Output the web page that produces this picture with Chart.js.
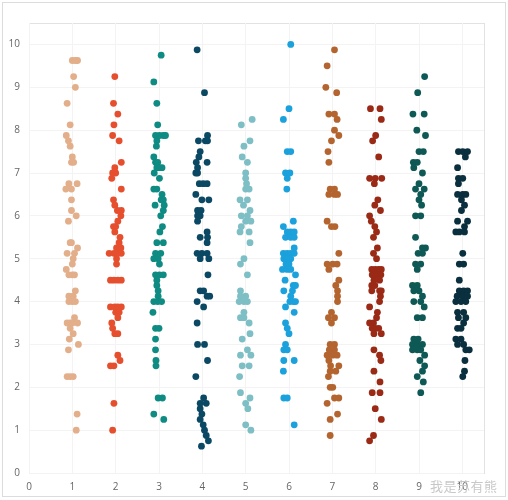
<!DOCTYPE html>
<html>
<head>
<meta charset="utf-8">
<script src="https://cdn.jsdelivr.net/npm/chart.js@4"></script>
<style>
    html, body { margin: 0; padding: 0; background: #ffffff; }
    #wrap { position: relative; width: 508px; height: 500px; }
    #watermark {
        position: absolute; left: 430px; top: 476px;
        font-family: 'Noto Sans CJK SC', sans-serif; font-size: 13px;
        color: #c8c8c8; letter-spacing: 0.5px;
    }
</style>
</head>
<body>
<div id="wrap">
    <canvas id="stripChart" width="508" height="500"></canvas>
    <div id="watermark">我是苏有熊</div>
</div>
<script>
// Strip plot - 10 groups, jittered points [x, y]

const groupLabels = ['1', '2', '3', '4', '5', '6', '7', '8', '9', '10'];
const xTicks = [0, 1, 2, 3, 4, 5, 6, 7, 8, 9, 10];
const yTicks = [0, 1, 2, 3, 4, 5, 6, 7, 8, 9, 10];

const group1 = [[1.00,9.625],[1.07,9.625],[1.12,9.625],[1.03,9.25],[1.07,9.0],[0.88,8.625],[0.95,8.125],[0.86,7.875],[0.91,7.75],[0.95,7.625],[1.00,7.375],[0.98,7.25],[1.03,7.25],[0.92,6.75],[1.11,6.75],[0.85,6.625],[0.98,6.625],[0.98,6.375],[0.98,6.125],[1.09,6.0],[0.91,5.875],[0.95,5.375],[0.98,5.375],[1.12,5.25],[0.88,5.125],[1.05,5.125],[1.02,5.0],[1.00,4.875],[0.86,4.75],[0.92,4.625],[1.00,4.625],[1.05,4.625],[1.07,4.25],[0.92,4.125],[1.02,4.125],[0.92,4.0],[1.00,4.0],[1.07,4.0],[1.05,3.625],[0.95,3.5],[0.88,3.5],[1.00,3.5],[1.12,3.5],[0.95,3.375],[1.02,3.25],[0.93,3.125],[1.14,3.0],[0.91,2.875],[0.88,2.25],[0.95,2.25],[1.02,2.25],[1.11,1.375],[1.09,1.0]];
const group2 = [[1.98,9.25],[1.95,8.625],[2.05,8.375],[1.96,8.125],[1.93,7.875],[2.08,7.75],[2.13,7.25],[1.98,7.125],[1.93,7.0],[2.00,7.0],[1.91,6.875],[2.13,6.625],[1.95,6.375],[1.98,6.25],[2.04,6.125],[2.13,6.125],[2.12,6.0],[2.05,5.875],[1.95,5.75],[2.00,5.75],[1.98,5.625],[2.10,5.5],[2.08,5.375],[2.02,5.25],[2.12,5.25],[1.85,5.125],[1.96,5.125],[2.05,5.125],[2.13,5.125],[2.02,5.0],[2.02,4.875],[1.88,4.5],[1.96,4.5],[2.05,4.5],[2.13,4.5],[1.88,3.875],[1.98,3.875],[2.05,3.875],[2.13,3.875],[2.00,3.75],[2.08,3.75],[2.05,3.625],[1.91,3.5],[1.93,3.375],[1.98,3.25],[2.05,3.25],[2.05,2.75],[2.10,2.625],[1.88,2.5],[1.96,2.5],[1.96,1.625],[1.93,1.0]];
const group3 = [[3.05,9.75],[2.88,9.125],[2.95,8.625],[2.97,8.125],[2.92,7.875],[3.01,7.875],[3.10,7.875],[3.15,7.875],[2.95,7.75],[2.94,7.625],[2.88,7.375],[2.92,7.25],[2.97,7.25],[2.95,7.125],[3.01,7.125],[3.07,7.125],[2.89,7.0],[3.01,6.875],[2.88,6.625],[2.95,6.625],[3.07,6.5],[3.05,6.375],[3.10,6.375],[2.91,6.25],[3.12,6.25],[3.10,6.125],[3.04,6.0],[3.08,5.75],[3.02,5.625],[2.95,5.375],[3.10,5.375],[2.92,5.125],[3.04,5.125],[2.88,5.0],[2.98,5.0],[3.01,4.875],[2.92,4.625],[3.01,4.625],[3.10,4.625],[2.95,4.5],[2.95,4.375],[2.98,4.25],[2.98,4.125],[2.88,4.0],[2.97,4.0],[3.06,4.0],[2.86,3.75],[2.92,3.375],[3.00,3.375],[2.92,3.125],[2.92,2.875],[2.93,2.625],[2.93,2.5],[2.98,1.75],[3.08,1.75],[2.88,1.375],[3.11,1.25]];
const group4 = [[3.88,9.875],[4.05,8.875],[4.12,7.875],[3.91,7.75],[4.07,7.75],[4.12,7.75],[3.95,7.5],[3.92,7.375],[3.86,7.25],[4.11,7.25],[3.89,7.125],[3.85,7.0],[3.89,7.0],[3.93,6.75],[4.02,6.75],[4.11,6.75],[3.85,6.5],[3.99,6.375],[4.15,6.375],[3.89,6.125],[3.97,6.125],[3.89,6.0],[3.95,6.0],[3.89,5.875],[4.11,5.625],[3.95,5.5],[4.12,5.5],[4.11,5.375],[3.88,5.125],[3.99,5.125],[4.11,5.125],[3.95,5.0],[4.15,5.0],[4.13,4.625],[3.95,4.25],[4.03,4.25],[4.11,4.125],[4.17,4.125],[3.88,4.0],[4.03,3.875],[3.88,3.5],[3.89,3.0],[4.05,3.0],[4.12,2.625],[3.85,2.25],[4.03,1.75],[3.95,1.625],[4.09,1.625],[3.95,1.5],[3.99,1.375],[3.95,1.25],[4.02,1.125],[4.05,1.0],[4.09,0.875],[4.14,0.75],[3.98,0.625]];
const group5 = [[4.90,8.125],[5.15,8.25],[5.10,7.75],[4.96,7.625],[4.92,7.375],[5.04,7.25],[5.00,7.0],[5.00,6.875],[5.02,6.75],[5.00,6.625],[5.08,6.625],[4.87,6.375],[5.04,6.375],[4.95,6.25],[5.10,6.125],[4.90,6.0],[5.04,6.0],[5.00,5.875],[5.12,5.875],[4.90,5.75],[4.87,5.625],[5.08,5.625],[5.10,5.375],[4.96,5.0],[4.88,4.875],[5.04,4.625],[4.88,4.25],[5.00,4.125],[4.88,4.125],[4.85,4.0],[4.96,4.0],[5.04,4.0],[4.96,3.75],[4.88,3.625],[4.96,3.625],[5.08,3.5],[5.10,3.25],[4.92,3.125],[5.04,2.875],[4.88,2.75],[5.12,2.75],[4.92,2.5],[5.08,2.5],[4.86,2.25],[4.88,1.875],[5.10,1.75],[5.00,1.625],[5.05,1.5],[5.00,1.125],[5.12,1.0]];
const group6 = [[6.04,10.0],[6.00,8.5],[5.87,8.25],[5.96,7.5],[6.04,7.5],[5.92,7.0],[6.02,7.0],[5.96,6.875],[5.95,6.625],[6.10,5.875],[5.87,5.75],[5.96,5.625],[6.04,5.625],[6.12,5.625],[5.92,5.5],[6.04,5.5],[6.12,5.5],[6.12,5.25],[5.87,5.125],[5.96,5.125],[6.04,5.125],[6.12,5.125],[5.88,5.0],[5.96,5.0],[6.04,5.0],[5.93,4.875],[6.00,4.875],[5.85,4.75],[5.96,4.75],[6.04,4.75],[6.15,4.625],[5.91,4.5],[6.10,4.375],[6.15,4.375],[5.88,4.25],[6.08,4.25],[6.04,4.125],[6.02,4.0],[6.10,4.0],[6.15,4.0],[5.92,3.875],[6.12,3.75],[5.92,3.5],[5.96,3.375],[6.00,3.25],[5.92,3.0],[5.88,2.875],[5.96,2.875],[5.88,2.625],[6.12,2.625],[5.87,2.375],[5.88,1.75],[5.96,1.75],[6.12,1.125]];
const group7 = [[7.05,9.875],[6.88,9.5],[6.85,9.0],[7.10,8.875],[6.92,8.375],[7.05,8.375],[7.11,8.25],[7.05,8.0],[7.15,7.875],[6.98,7.75],[6.90,7.5],[6.92,7.25],[6.95,6.625],[7.05,6.625],[6.92,6.5],[7.05,6.5],[7.12,6.5],[6.88,5.875],[6.98,5.75],[7.06,5.75],[7.15,5.125],[6.88,4.875],[7.01,4.875],[7.11,4.875],[6.92,4.75],[7.15,4.5],[7.08,4.375],[7.12,4.25],[7.12,4.125],[7.12,4.0],[6.98,3.75],[6.91,3.625],[7.05,3.625],[6.98,3.5],[6.95,3.0],[7.05,3.0],[6.93,2.875],[7.05,2.875],[6.88,2.75],[7.01,2.75],[7.11,2.75],[6.92,2.625],[7.15,2.5],[6.96,2.5],[6.95,2.375],[7.08,2.375],[6.91,2.25],[6.95,2.0],[7.01,2.0],[7.05,1.75],[7.15,1.75],[6.88,1.625],[7.12,1.375],[6.95,1.25],[6.95,0.875]];
const group8 = [[7.88,8.5],[8.10,8.5],[8.13,8.25],[8.00,7.875],[7.93,7.75],[8.07,7.375],[7.86,6.875],[7.99,6.875],[8.14,6.875],[7.97,6.75],[8.05,6.375],[7.98,6.25],[8.11,6.125],[7.86,6.0],[7.90,5.875],[7.98,5.75],[8.02,5.625],[7.95,5.5],[8.04,5.25],[7.95,5.125],[8.02,5.0],[7.91,4.75],[7.99,4.75],[8.07,4.75],[8.13,4.75],[7.92,4.625],[8.02,4.625],[8.12,4.625],[7.96,4.5],[8.09,4.5],[7.91,4.375],[7.98,4.375],[7.91,4.25],[8.09,4.25],[8.13,4.25],[8.11,4.125],[8.09,4.0],[7.86,3.875],[8.04,3.75],[8.02,3.625],[7.86,3.5],[7.95,3.5],[7.92,3.375],[7.99,3.375],[8.07,3.375],[7.96,3.25],[8.13,3.25],[7.96,2.875],[8.09,2.75],[8.12,2.625],[7.96,2.375],[8.10,2.125],[7.92,1.875],[8.10,1.875],[7.99,1.5],[8.13,1.25],[7.95,0.875],[7.86,0.75]];
const group9 = [[9.13,9.25],[8.97,8.875],[8.86,8.375],[9.12,8.375],[8.95,8.0],[9.15,7.875],[9.00,7.5],[9.10,7.5],[8.87,7.25],[8.96,7.25],[8.88,7.125],[9.08,7.0],[9.00,6.75],[8.92,6.625],[9.12,6.625],[9.04,6.5],[9.00,6.375],[9.06,6.25],[8.92,6.0],[9.04,6.0],[8.92,5.5],[9.08,5.25],[9.15,5.25],[8.98,5.125],[9.08,5.125],[8.92,4.875],[9.04,4.875],[8.96,4.75],[8.85,4.375],[8.96,4.375],[8.88,4.25],[9.00,4.25],[9.08,4.125],[8.88,4.0],[9.04,4.0],[9.12,3.875],[8.96,3.625],[9.08,3.625],[8.88,3.125],[8.98,3.125],[8.85,3.0],[8.96,3.0],[9.08,3.0],[8.85,2.875],[8.96,2.875],[9.04,2.875],[9.13,2.75],[9.02,2.625],[9.13,2.5],[9.08,2.375],[8.96,2.25],[9.10,2.125],[9.04,1.875]];
const group10 = [[9.91,7.5],[10.01,7.5],[10.12,7.5],[10.07,7.375],[9.89,7.125],[9.91,6.875],[10.01,6.875],[9.91,6.75],[9.89,6.5],[10.01,6.5],[10.08,6.5],[9.98,6.375],[10.05,6.25],[9.98,6.125],[10.12,5.875],[9.89,5.875],[10.05,5.75],[9.85,5.625],[9.93,5.625],[10.05,5.625],[10.01,5.125],[9.93,4.875],[10.03,4.875],[9.93,4.5],[9.93,4.25],[10.03,4.25],[10.12,4.25],[9.88,4.125],[10.01,4.125],[10.12,4.125],[9.85,4.0],[9.97,4.0],[10.08,4.0],[9.89,3.75],[10.03,3.75],[9.91,3.625],[10.08,3.625],[10.03,3.5],[9.89,3.375],[9.97,3.375],[9.85,3.125],[9.97,3.125],[9.89,3.0],[10.03,3.0],[10.08,2.875],[10.16,2.875],[10.06,2.625],[10.05,2.375],[10.01,2.25]];

const groups = [group1, group2, group3, group4, group5, group6, group7, group8, group9, group10];

const groupColors = ['#E3AE8A', '#E64F2E', '#0E8B82', '#0B4863', '#7DBFC5',
                     '#1BA1DC', '#B4652F', '#9A2A16', '#0E5955', '#0A2F3E'];

// Frame around the whole picture and around the plot area
const framePlugin = {
    id: 'frames',
    beforeDraw(chart) {
        const c = chart.ctx;
        const a = chart.chartArea;
        c.save();
        c.strokeStyle = '#dcdcdc';
        c.lineWidth = 1;
        c.strokeRect(2.5, 2.5, 503, 494);
        c.strokeStyle = '#e2e2e2';
        c.strokeRect(a.left + 0.5, a.top + 0.5, a.right - a.left, a.bottom - a.top);
        c.restore();
    }
};

new Chart(document.getElementById('stripChart'), {
    type: 'scatter',
    data: {
        datasets: groups.map((g, i) => ({
            label: groupLabels[i],
            data: g.map(p => ({ x: p[0], y: p[1] })),
            backgroundColor: groupColors[i],
            borderWidth: 0,
            pointRadius: 3.4,
            pointHoverRadius: 3.4
        }))
    },
    options: {
        responsive: false,
        animation: false,
        layout: { padding: { top: 23, right: 24, left: 0, bottom: 0 } },
        plugins: {
            legend: { display: false },
            tooltip: { enabled: false }
        },
        scales: {
            x: {
                type: 'linear',
                min: 0,
                max: 10.5,
                afterFit: s => { s.height = 27; },
                afterBuildTicks: s => { s.ticks = xTicks.map(v => ({ value: v })); },
                grid: { color: '#f3f3f3', drawTicks: false },
                border: { display: false },
                ticks: {
                    padding: 8,
                    color: '#666666',
                    font: { family: "'Open Sans', sans-serif", size: 10 }
                }
            },
            y: {
                type: 'linear',
                min: 0,
                max: 10.5,
                afterFit: s => { s.width = 29; },
                afterBuildTicks: s => { s.ticks = yTicks.map(v => ({ value: v })); },
                grid: { color: '#f3f3f3', drawTicks: false },
                border: { display: false },
                ticks: {
                    padding: 9,
                    color: '#666666',
                    font: { family: "'Open Sans', sans-serif", size: 10 }
                }
            }
        }
    },
    plugins: [framePlugin]
});
</script>
</body>
</html>
